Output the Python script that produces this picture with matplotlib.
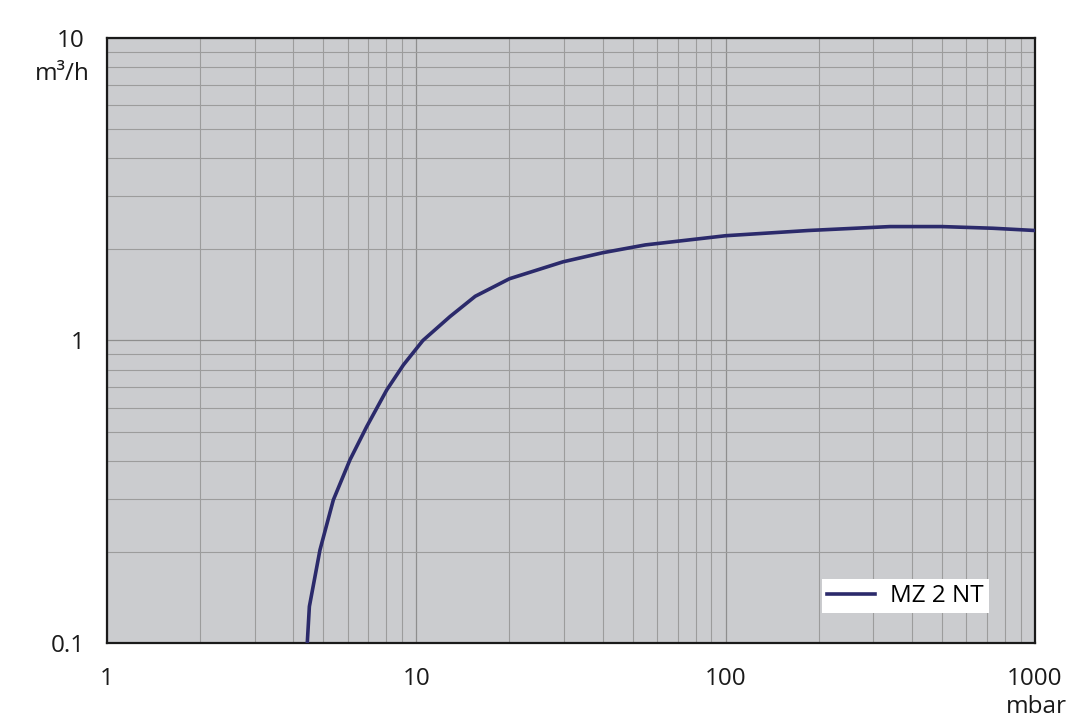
import numpy as np
import matplotlib
matplotlib.use('Agg')
import matplotlib.pyplot as plt
from matplotlib.ticker import FixedLocator, NullFormatter

# pumping speed curve
pressure = [4.44, 4.51, 4.88, 5.39, 6.1, 6.91, 8.02, 9.08, 10.5, 12.85, 15.5,
            20, 29.8, 40, 55, 100, 185, 340, 500, 730, 1000]
speed = [0.1, 0.132, 0.203, 0.297, 0.403, 0.519, 0.686, 0.83, 1.0, 1.2, 1.4,
         1.6, 1.82, 1.95, 2.07, 2.22, 2.31, 2.38, 2.38, 2.35, 2.31]

x_ticks = [1, 10, 100, 1000]
x_labels = ['1', '10', '100', '1000']
y_ticks = [0.1, 1, 10]
y_labels = ['0.1', '1', '10']
serie = 'MZ 2 NT'

plt.rcParams['font.family'] = ['Open Sans', 'DejaVu Sans']
fs = 17.5

fig = plt.figure(figsize=(10.8, 7.21), dpi=100)
ax = fig.add_axes([0.0991, 0.1082, 0.8592, 0.8391])
ax.set_facecolor('#cbcccf')

ax.set_xscale('log')
ax.set_yscale('log')
ax.set_xlim(1, 1000)
ax.set_ylim(0.1, 10)

ax.plot(pressure, speed, color='#2b2a6b', lw=2.6, label=serie, zorder=3)

ax.xaxis.set_major_locator(FixedLocator(x_ticks))
ax.yaxis.set_major_locator(FixedLocator(y_ticks))
ax.set_xticklabels(x_labels)
ax.set_yticklabels(y_labels)
minx = [m * 10**d for d in range(0, 3) for m in range(2, 10)]
miny = [m * 10**d for d in range(-1, 1) for m in range(2, 10)]
ax.xaxis.set_minor_locator(FixedLocator(minx))
ax.yaxis.set_minor_locator(FixedLocator(miny))
ax.xaxis.set_minor_formatter(NullFormatter())
ax.yaxis.set_minor_formatter(NullFormatter())

ax.grid(which='major', color='#8e8e8e', lw=0.9)
ax.grid(which='minor', color='#9c9c9c', lw=0.8)
ax.set_axisbelow(True)

ax.tick_params(which='both', length=0, labelsize=fs, colors='#1a1a1a')
ax.tick_params(axis='x', pad=17)
ax.tick_params(axis='y', pad=16)

for s in ax.spines.values():
    s.set_color('#1a1a1a')
    s.set_linewidth(1.6)

# unit labels
fig.text(90 / 1080, 1 - 74 / 721, 'm³/h', ha='right', va='center',
         fontsize=fs, color='#1a1a1a')
fig.text(1036 / 1080, 1 - 707 / 721, 'mbar', ha='center', va='center',
         fontsize=fs, color='#1a1a1a')

leg = ax.legend(loc='lower right', bbox_to_anchor=(0.950, 0.0496),
                borderaxespad=0, fancybox=False, framealpha=1,
                edgecolor='white', fontsize=fs, handlelength=2.0,
                borderpad=0.2, handletextpad=0.6)
leg.get_frame().set_linewidth(0)

fig.savefig('out.png', dpi=100)
